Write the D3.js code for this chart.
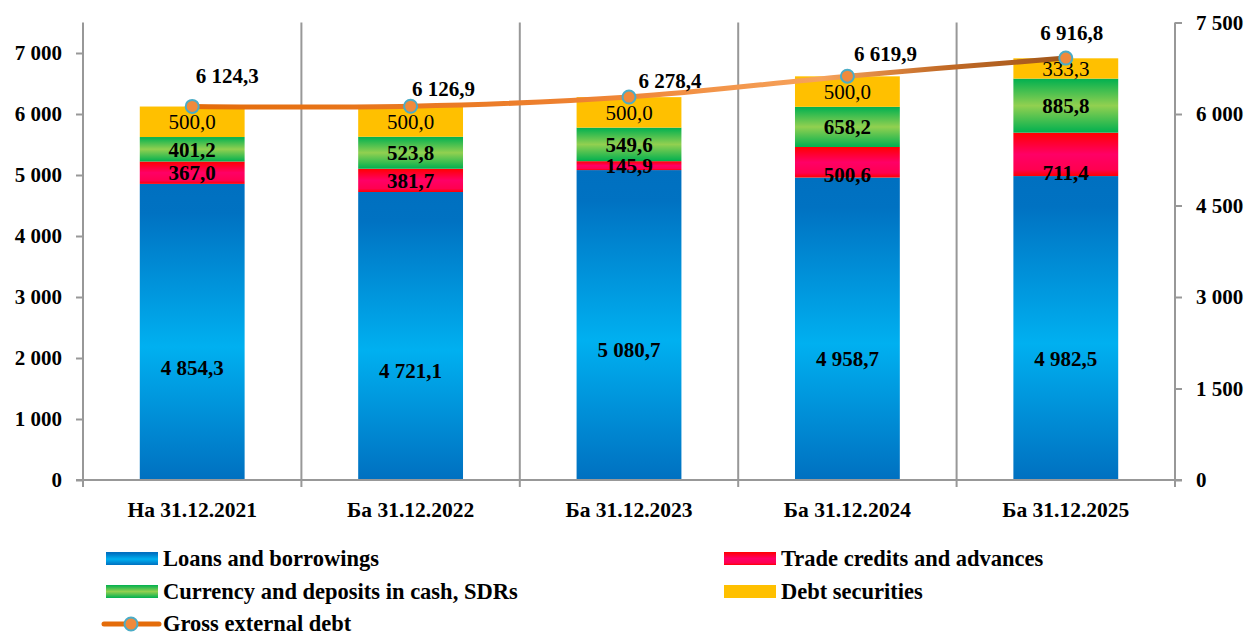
<!DOCTYPE html>
<html>
<head>
<meta charset="utf-8">
<script src="https://cdn.jsdelivr.net/npm/d3@7"></script>
<style>
  body { margin: 0; background: #fff; }
  svg text { font-family: "Book Antiqua", "Palatino Linotype", Palatino, "Liberation Serif", serif; }
</style>
</head>
<body>
<div id="chart"></div>
<script>
// Data
var categories = ["На 31.12.2021", "Ба 31.12.2022", "Ба 31.12.2023", "Ба 31.12.2024", "Ба 31.12.2025"];
var loans = [4854.3, 4721.1, 5080.7, 4958.7, 4982.5];
var trade = [367.0, 381.7, 145.9, 500.6, 711.4];
var currency = [401.2, 523.8, 549.6, 658.2, 885.8];
var securities = [500.0, 500.0, 500.0, 500.0, 333.3];
var gross = [6124.3, 6126.9, 6278.4, 6619.9, 6916.8];
var leftTicks = [0, 1000, 2000, 3000, 4000, 5000, 6000, 7000];
var rightTicks = [0, 1500, 3000, 4500, 6000, 7500];

var seriesNames = ["Loans and borrowings", "Trade credits and advances", "Currency and deposits in cash, SDRs", "Debt securities"];

var width = 1248, height = 634;
var plot = { left: 83, right: 1175, top: 22.5, bottom: 480 };
var fontSize = 21;
var fontFamily = '"Book Antiqua", "Palatino Linotype", Palatino, "Liberation Serif", serif';

var svg = d3.select("#chart").append("svg")
    .attr("width", width)
    .attr("height", height);

var defs = svg.append("defs");

// vertical gradients for bars
function vGrad(id, stops) {
    var g = defs.append("linearGradient").attr("id", id)
        .attr("x1", 0).attr("y1", 0).attr("x2", 0).attr("y2", 1);
    stops.forEach(function (s) {
        g.append("stop").attr("offset", s[0]).attr("stop-color", s[1]);
    });
}
vGrad("gLoans", [[0, "#0070c0"], [0.1, "#0072c2"], [0.55, "#00b0f0"], [1, "#0070c0"]]);
vGrad("gTrade", [[0, "#ff0000"], [0.5, "#ff0066"], [0.85, "#ff0050"], [1, "#ff0000"]]);
vGrad("gCurr", [[0, "#00b050"], [0.5, "#92d050"], [1, "#00b050"]]);
vGrad("gSec", [[0, "#ffc000"], [1, "#ffc000"]]);

var fills = ["url(#gLoans)", "url(#gTrade)", "url(#gCurr)", "url(#gSec)"];

var x = d3.scaleBand().domain(categories).range([plot.left, plot.right]).padding(0);
var y = d3.scaleLinear().domain([0, 7500]).range([plot.bottom, plot.top]);
var yR = d3.scaleLinear().domain([0, 7500]).range([plot.bottom, plot.top]);

var loc = d3.formatLocale({ decimal: ",", thousands: " ", grouping: [3], currency: ["", ""] });
var fmtTick = loc.format(",");
var fmtVal = loc.format(",.1f");

var gridColor = "#989898";

// vertical separators between categories
svg.append("g").selectAll("line")
    .data(categories.slice(1))
    .join("line")
    .attr("x1", function (d) { return x(d); })
    .attr("x2", function (d) { return x(d); })
    .attr("y1", plot.top)
    .attr("y2", plot.bottom + 7)
    .attr("stroke", gridColor)
    .attr("stroke-width", 2);

// stacked bars
var table = categories.map(function (c, i) {
    return { cat: c, loans: loans[i], trade: trade[i], currency: currency[i], securities: securities[i] };
});
var keys = ["loans", "trade", "currency", "securities"];
var stack = d3.stack().keys(keys)(table);

var barW = x.bandwidth() * 0.48;
var barX = function (d) { return x(d.data.cat) + (x.bandwidth() - barW) / 2; };

var layers = svg.append("g").selectAll("g")
    .data(stack)
    .join("g")
    .attr("fill", function (d, i) { return fills[i]; });

layers.selectAll("rect")
    .data(function (d) { return d; })
    .join("rect")
    .attr("x", barX)
    .attr("width", barW)
    .attr("y", function (d) { return y(d[1]); })
    .attr("height", function (d) { return y(d[0]) - y(d[1]); });

// bar labels
// where the label sits inside its segment (fraction from bottom); trade labels of last two sit at the base
var labelFrac = {
    loans: [0.38, 0.38, 0.42, 0.4, 0.4],
    trade: [0.5, 0.5, 0.5, 0.08, 0.08],
    currency: [0.5, 0.5, 0.5, 0.5, 0.5],
    securities: [0.5, 0.5, 0.5, 0.5, 0.5]
};
stack.forEach(function (layer, li) {
    var key = keys[li];
    svg.append("g").selectAll("text")
        .data(layer)
        .join("text")
        .attr("x", function (d) { return x(d.data.cat) + x.bandwidth() / 2; })
        .attr("y", function (d, i) {
            var f = labelFrac[key][i];
            return y(d[0] + (d[1] - d[0]) * f);
        })
        .attr("dy", "0.35em")
        .attr("text-anchor", "middle")
        .attr("font-size", fontSize)
        .attr("font-weight", key === "securities" ? "normal" : "bold")
        .attr("fill", "#000")
        .text(function (d) { return fmtVal(d.data[key]); });
});

// axes
var leftAxis = d3.axisLeft(y).tickValues(leftTicks).tickFormat(fmtTick).tickSize(7).tickPadding(14);
var gL = svg.append("g").attr("transform", "translate(" + plot.left + ",0)").call(leftAxis);

var rightAxis = d3.axisRight(yR).tickValues(rightTicks).tickFormat(fmtTick).tickSize(7).tickPadding(14);
var gR = svg.append("g").attr("transform", "translate(" + plot.right + ",0)").call(rightAxis);

[gL, gR].forEach(function (g) {
    g.select(".domain").remove();
    g.selectAll(".tick line").attr("stroke", gridColor).attr("stroke-width", 2);
    g.selectAll(".tick text").attr("font-size", fontSize).attr("font-weight", "bold").attr("fill", "#000")
        .style("font-family", fontFamily);
});

// axis lines
svg.append("line").attr("x1", plot.left).attr("x2", plot.left).attr("y1", plot.top).attr("y2", plot.bottom + 7)
    .attr("stroke", gridColor).attr("stroke-width", 2);
svg.append("line").attr("x1", plot.right).attr("x2", plot.right).attr("y1", plot.top).attr("y2", plot.bottom + 7)
    .attr("stroke", gridColor).attr("stroke-width", 2);
svg.append("line").attr("x1", plot.left - 7).attr("x2", plot.right + 7).attr("y1", plot.bottom).attr("y2", plot.bottom)
    .attr("stroke", gridColor).attr("stroke-width", 2);

// category labels
var xAxis = d3.axisBottom(x).tickSize(0).tickPadding(22);
var gX = svg.append("g").attr("transform", "translate(0," + plot.bottom + ")").call(xAxis);
gX.select(".domain").remove();
gX.selectAll(".tick text").attr("font-size", 21.5).attr("font-weight", "bold").attr("fill", "#000")
    .style("font-family", fontFamily);

// gross external debt line
var cx = function (d, i) { return x(categories[i]) + x.bandwidth() / 2; };
var lg = defs.append("linearGradient").attr("id", "gLine")
    .attr("gradientUnits", "userSpaceOnUse")
    .attr("x1", cx(null, 0)).attr("x2", cx(null, 4)).attr("y1", 0).attr("y2", 0);
[[0, "#e46c0a"], [0.45, "#ee8232"], [0.72, "#f6a35c"], [0.86, "#c26a26"], [1, "#a0561b"]].forEach(function (s) {
    lg.append("stop").attr("offset", s[0]).attr("stop-color", s[1]);
});

var line = d3.line()
    .x(cx)
    .y(function (d) { return y(d); })
    .curve(d3.curveCatmullRom.alpha(0));

svg.append("path")
    .datum(gross)
    .attr("d", line)
    .attr("fill", "none")
    .attr("stroke", "url(#gLine)")
    .attr("stroke-width", 5)
    .attr("stroke-linecap", "round");

svg.append("g").selectAll("circle")
    .data(gross)
    .join("circle")
    .attr("cx", cx)
    .attr("cy", function (d) { return y(d); })
    .attr("r", 6.5)
    .attr("fill", "#f08a3c")
    .attr("stroke", "#4bacc6")
    .attr("stroke-width", 2);

// total labels, nudged like the reference
var totalOffset = [[35, -31], [33, -18], [41, -16], [38, -23], [6, -25]];
svg.append("g").selectAll("text")
    .data(gross)
    .join("text")
    .attr("x", function (d, i) { return cx(d, i) + totalOffset[i][0]; })
    .attr("y", function (d, i) { return y(d) + totalOffset[i][1]; })
    .attr("dy", "0.35em")
    .attr("text-anchor", "middle")
    .attr("font-size", fontSize)
    .attr("font-weight", "bold")
    .attr("fill", "#000")
    .text(function (d) { return fmtVal(d); });

// legend
var legendItems = [
    { name: seriesNames[0], fill: "url(#gLoans)", col: 0, row: 0 },
    { name: seriesNames[1], fill: "url(#gTrade)", col: 1, row: 0 },
    { name: seriesNames[2], fill: "url(#gCurr)", col: 0, row: 1 },
    { name: seriesNames[3], fill: "url(#gSec)", col: 1, row: 1 }
];
var colX = [106, 724], rowY = [559, 592, 624];
var legFont = 22.5;

var leg = svg.append("g");
legendItems.forEach(function (it) {
    var gx = colX[it.col], gy = rowY[it.row];
    leg.append("rect").attr("x", gx).attr("y", gy - 7).attr("width", 52).attr("height", 13).attr("fill", it.fill);
    leg.append("text").attr("x", gx + 57).attr("y", gy).attr("dy", "0.33em")
        .attr("font-size", legFont).attr("font-weight", "bold").attr("fill", "#000").text(it.name);
});
leg.append("line").attr("x1", 104).attr("x2", 159).attr("y1", rowY[2]).attr("y2", rowY[2])
    .attr("stroke", "#e46c0a").attr("stroke-width", 5).attr("stroke-linecap", "round");
leg.append("circle").attr("cx", 131).attr("cy", rowY[2]).attr("r", 6.5)
    .attr("fill", "#f08a3c").attr("stroke", "#4bacc6").attr("stroke-width", 2);
leg.append("text").attr("x", 163).attr("y", rowY[2]).attr("dy", "0.33em")
    .attr("font-size", legFont).attr("font-weight", "bold").attr("fill", "#000").text("Gross external debt");
</script>
</body>
</html>
